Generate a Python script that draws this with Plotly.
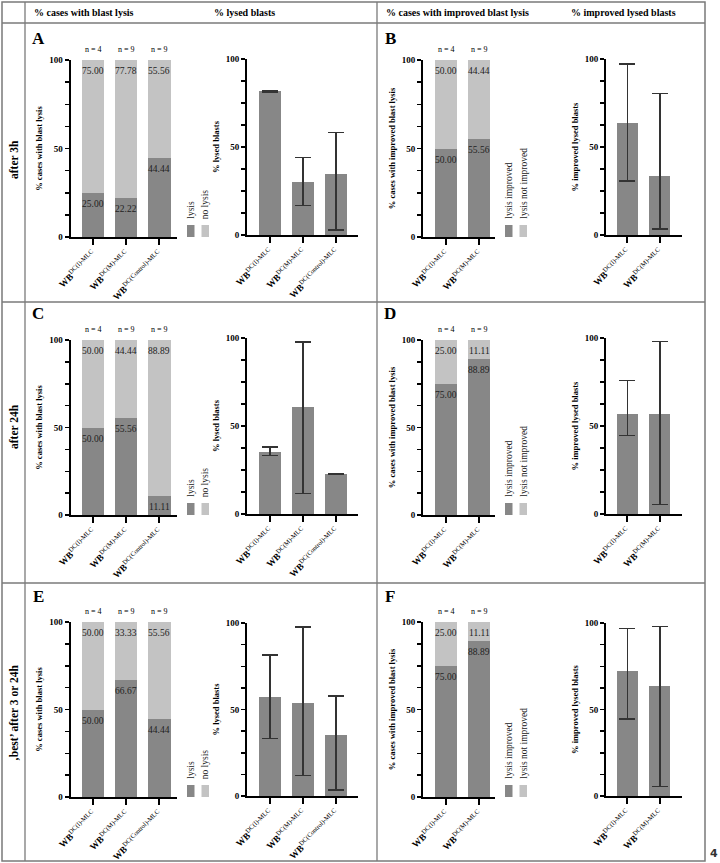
import plotly.graph_objects as go

W, H = 720, 863
SERIF = "Liberation Serif, Times New Roman, serif"
DARK = "#878787"
LIGHT = "#c3c3c3"
ERR = "#333333"

# ---------------- data ----------------
groups3 = ["<b>WB</b><sup>DC(I)-MLC</sup>", "<b>WB</b><sup>DC(M)-MLC</sup>",
           "<b>WB</b><sup>DC(Control)-MLC</sup>"]
groups2 = groups3[:2]
n3 = [4, 9, 9]
n2 = [4, 9]

col_headers = ["% cases with blast lysis", "% lysed blasts",
               "% cases with improved blast lysis", "% improved lysed blasts"]
row_labels = ["after 3h", "after 24h", "\u201abest\u2019 after 3 or 24h"]
panel_letters = ["A", "B", "C", "D", "E", "F"]

# Panel A (after 3h)
A_lysis = [25.00, 22.22, 44.44]
A_nolysis = [75.00, 77.78, 55.56]
A_lysed = [81.7, 30.2, 34.9]
A_up = [0.4, 13.8, 23.2]
A_dn = [0.4, 13.6, 32.1]
# Panel B
B_impr = [50.00, 55.56]
B_notimpr = [50.00, 44.44]
B_val = [63.7, 33.8]
B_up = [33.4, 46.5]
B_dn = [33.1, 30.5]
# Panel C (after 24h)
C_lysis = [50.00, 55.56, 11.11]
C_nolysis = [50.00, 44.44, 88.89]
C_lysed = [35.2, 60.6, 22.7]
C_up = [2.8, 37.1, 0.3]
C_dn = [1.8, 48.8, 0.3]
# Panel D
D_impr = [75.00, 88.89]
D_notimpr = [25.00, 11.11]
D_val = [56.6, 57.1]
D_up = [19.4, 41.0]
D_dn = [12.0, 51.6]
# Panel E (best)
E_lysis = [50.00, 66.67, 44.44]
E_nolysis = [50.00, 33.33, 55.56]
E_lysed = [57.3, 53.5, 35.2]
E_up = [24.1, 44.2, 22.7]
E_dn = [24.0, 41.8, 31.7]
# Panel F
F_impr = [75.00, 88.89]
F_notimpr = [25.00, 11.11]
F_val = [72.1, 63.4]
F_up = [24.6, 34.7]
F_dn = [27.6, 58.0]

# ---------------- geometry (pixels) ----------------
COLS = {
    "L3": dict(ax=70.5, xe=177, c0=93, s=33.2, bw=22.3),
    "R3": dict(ax=247, xe=358, c0=270, s=33.0, bw=22.0),
    "L2": dict(ax=423, xe=495, c0=446, s=33.2, bw=22.3),
    "R2": dict(ax=606, xe=682, c0=627.3, s=32.5, bw=21.0),
}
ROWS = [
    dict(st=(237, 60), br=(235, 59)),
    dict(st=(515, 340), br=(514, 338)),
    dict(st=(797, 622), br=(796, 623)),
]

fig = go.Figure()
annotations = []
shapes = []
layout_axes = {}
axis_counter = [0]


def fx(px):
    return px / W


def fy(py):
    return 1 - py / H


def new_axes(colkey, y0, y100, cats, ytitle, standoff):
    axis_counter[0] += 1
    i = axis_counter[0]
    g = COLS[colkey]
    xn = "x" if i == 1 else f"x{i}"
    yn = "y" if i == 1 else f"y{i}"
    tickvals = [k * 12.5 for k in range(9)]
    ticktext = ["<b>%d</b>" % v if v in (0, 50, 100) else "" for v in tickvals]
    layout_axes["xaxis" if i == 1 else f"xaxis{i}"] = dict(
        domain=[fx(g["ax"]), fx(g["xe"])], anchor=yn, type="category",
        categoryorder="array", categoryarray=cats, automargin=False,
        range=[(g["ax"] - g["c0"]) / g["s"], (g["xe"] - g["c0"]) / g["s"]],
        showline=True, linewidth=2, linecolor="black", ticks="outside",
        ticklen=6, tickwidth=2, tickcolor="black", tickangle=-45,
        tickfont=dict(family=SERIF, size=9.3, color="black"),
        showgrid=False, zeroline=False, fixedrange=True)
    layout_axes["yaxis" if i == 1 else f"yaxis{i}"] = dict(
        domain=[fy(y0), fy(y100)], anchor=xn, range=[0, 100], automargin=False,
        tickvals=tickvals, ticktext=ticktext, showline=True, linewidth=2,
        linecolor="black", ticks="outside", ticklen=4, tickwidth=1.5,
        tickcolor="black", tickfont=dict(family=SERIF, size=9, color="black"),
        title=dict(text="<b>%s</b>" % ytitle, standoff=standoff,
                   font=dict(family=SERIF, size=8.5, color="black")),
        showgrid=False, zeroline=False, fixedrange=True)
    return xn, yn, g


def stacked(colkey, row, cats, low, high, ns, legend_names):
    y0, y100 = ROWS[row]["st"]
    title = "% cases with blast lysis" if colkey == "L3" else "% cases with improved blast lysis"
    xn, yn, g = new_axes(colkey, y0, y100, cats, title, 5)
    w = g["bw"] / g["s"]
    fig.add_trace(go.Bar(x=cats, y=low, width=w, marker=dict(color=DARK, line=dict(width=0)),
                         xaxis=xn, yaxis=yn, showlegend=False, name=legend_names[0]))
    fig.add_trace(go.Bar(x=cats, y=high, width=w, marker=dict(color=LIGHT, line=dict(width=0)),
                         xaxis=xn, yaxis=yn, showlegend=False, name=legend_names[1]))
    for c, lo, hi, n in zip(cats, low, high, ns):
        annotations.append(dict(x=c, y=lo, xref=xn, yref=yn, text="%.2f" % lo,
                                showarrow=False, xanchor="center", yanchor="top", yshift=-4,
                                font=dict(family=SERIF, size=9.5, color="#222")))
        annotations.append(dict(x=c, y=lo + hi, xref=xn, yref=yn, text="%.2f" % hi,
                                showarrow=False, xanchor="center", yanchor="top", yshift=-4,
                                font=dict(family=SERIF, size=9.5, color="#222")))
        annotations.append(dict(x=c, y=lo + hi, xref=xn, yref=yn, text="n = %d" % n,
                                showarrow=False, xanchor="center", yanchor="bottom", yshift=4,
                                font=dict(family=SERIF, size=8, color="black")))
    base = g["xe"] + 10
    for k, (nm, colr) in enumerate(zip(legend_names, [DARK, LIGHT])):
        x0 = base + k * 14.5
        shapes.append(dict(type="rect", xref="paper", yref="paper",
                           x0=fx(x0), x1=fx(x0 + 7.5), y0=fy(y0), y1=fy(y0 - 12),
                           fillcolor=colr, line=dict(width=0)))
        annotations.append(dict(x=fx(x0 + 3.75), y=fy(y0 - 16), xref="paper", yref="paper",
                                text=nm, textangle=-90, showarrow=False,
                                xanchor="center", yanchor="bottom",
                                font=dict(family=SERIF, size=9.5, color="#222")))


def simple(colkey, row, cats, vals, up, dn):
    y0, y100 = ROWS[row]["br"]
    title = "% lysed blasts" if colkey == "R3" else "% improved lysed blasts"
    xn, yn, g = new_axes(colkey, y0, y100, cats, title, 5)
    w = g["bw"] / g["s"]
    fig.add_trace(go.Bar(x=cats, y=vals, width=w, marker=dict(color=DARK, line=dict(width=0)),
                         error_y=dict(type="data", symmetric=False, array=up, arrayminus=dn,
                                      color=ERR, thickness=1.4, width=8),
                         xaxis=xn, yaxis=yn, showlegend=False))


stacked("L3", 0, groups3, A_lysis, A_nolysis, n3, ["lysis", "no lysis"])
simple("R3", 0, groups3, A_lysed, A_up, A_dn)
stacked("L2", 0, groups2, B_impr, B_notimpr, n2, ["lysis improved", "lysis not improved"])
simple("R2", 0, groups2, B_val, B_up, B_dn)
stacked("L3", 1, groups3, C_lysis, C_nolysis, n3, ["lysis", "no lysis"])
simple("R3", 1, groups3, C_lysed, C_up, C_dn)
stacked("L2", 1, groups2, D_impr, D_notimpr, n2, ["lysis improved", "lysis not improved"])
simple("R2", 1, groups2, D_val, D_up, D_dn)
stacked("L3", 2, groups3, E_lysis, E_nolysis, n3, ["lysis", "no lysis"])
simple("R3", 2, groups3, E_lysed, E_up, E_dn)
stacked("L2", 2, groups2, F_impr, F_notimpr, n2, ["lysis improved", "lysis not improved"])
simple("R2", 2, groups2, F_val, F_up, F_dn)

# ---------------- table frame ----------------
LC = "#7a7a7a"
L, R, T, B = 2, 705, 2, 861
hlines = [23, 302, 583]
vlines = [25, 377]
shapes.append(dict(type="rect", xref="paper", yref="paper", x0=fx(L), x1=fx(R),
                   y0=fy(B), y1=fy(T), line=dict(color=LC, width=1.5)))
for yy in hlines:
    shapes.append(dict(type="line", xref="paper", yref="paper", x0=fx(L), x1=fx(R),
                       y0=fy(yy), y1=fy(yy), line=dict(color=LC, width=1.3)))
for xx in vlines:
    shapes.append(dict(type="line", xref="paper", yref="paper", x0=fx(xx), x1=fx(xx),
                       y0=fy(B), y1=fy(T), line=dict(color=LC, width=1.3)))


def paper_text(txt, px, py, size, family=SERIF, angle=0, color="black"):
    annotations.append(dict(x=fx(px), y=fy(py), xref="paper", yref="paper", text=txt,
                            textangle=angle, showarrow=False, xanchor="center",
                            yanchor="middle", font=dict(family=family, size=size, color=color)))


for txt, cx in zip(col_headers, [84, 244, 457, 623]):
    paper_text("<b>%s</b>" % txt, cx, 13, 10)
for txt, cy in zip(row_labels, [160, 427, 713]):
    paper_text("<b>%s</b>" % txt, 14, cy, 11.5, angle=-90)
for lt, px, py in zip(panel_letters, [38, 390, 38, 390, 38, 390],
                      [38, 38, 313, 313, 596, 596]):
    paper_text("<b>%s</b>" % lt, px, py, 17)
paper_text("<b>4</b>", 714, 853, 11, family="DejaVu Sans", color="#333")

fig.update_layout(width=W, height=H, margin=dict(l=0, r=0, t=0, b=0, autoexpand=False),
                  paper_bgcolor="white", plot_bgcolor="white", barmode="stack",
                  annotations=annotations, shapes=shapes, **layout_axes)

fig.write_html("out.html", config={"displayModeBar": False, "staticPlot": True},
               post_script="document.body.style.margin='0';document.body.style.overflow='hidden';")
